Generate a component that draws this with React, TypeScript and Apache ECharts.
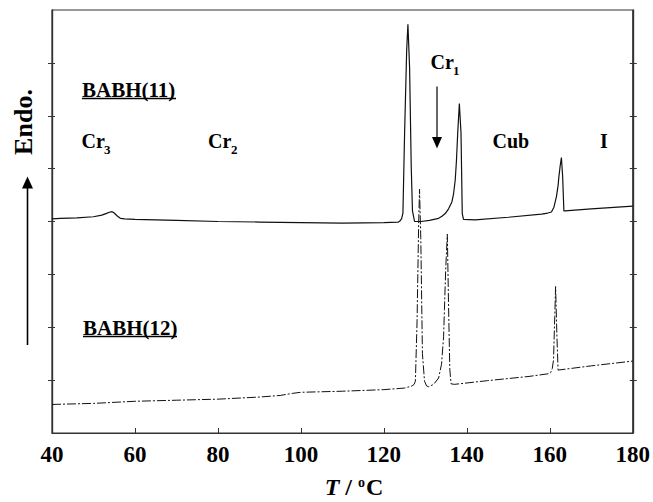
import React, { useEffect, useRef } from 'react';
import * as echarts from 'echarts';

// Temperature axis ticks (°C)
const xTicks = [40, 60, 80, 100, 120, 140, 160, 180];
// Unlabelled heat-flow ticks (arbitrary units)
const yTicks = [1, 2, 3, 4, 5, 6, 7];

// BABH(11) DSC trace (solid): temperature (°C) and heat flow (arbitrary units)
const babh11T = [40, 42, 46, 50, 52, 53, 54, 54.5, 55, 55.8, 56.5, 57.5, 60, 70, 80, 90, 100, 110, 120, 123.5, 124.0, 124.3, 124.6, 125.0, 125.5, 125.8, 126.2, 126.6, 126.9, 127.4, 129, 131, 133.2, 134.0, 134.8, 135.6, 136.4, 136.8, 137.2, 137.5, 137.8, 138.0, 138.2, 138.6, 138.9, 139.2, 142, 150, 158, 159.5, 160.4, 161.0, 161.6, 162.0, 162.2, 162.5, 162.8, 163.1, 163.4, 163.7, 170, 180];
const babh11V = [4.05, 4.06, 4.07, 4.09, 4.12, 4.15, 4.18, 4.185, 4.16, 4.1, 4.06, 4.05, 4.04, 4.02, 4.0, 3.99, 3.98, 3.97, 3.98, 3.99, 4.02, 4.06, 4.16, 5.67, 7.24, 7.73, 6.92, 5.03, 4.2, 4.0, 4.0, 4.02, 4.06, 4.1, 4.15, 4.24, 4.37, 4.52, 4.78, 5.15, 5.67, 5.95, 6.23, 5.67, 4.15, 4.04, 4.03, 4.08, 4.14, 4.16, 4.18, 4.27, 4.47, 4.68, 4.85, 5.05, 5.21, 4.85, 4.2, 4.2, 4.24, 4.29];

// BABH(12) DSC trace (dash-dot)
const babh12T = [40, 50, 60, 70, 80, 90, 95, 98, 100, 105, 110, 120, 125, 126.8, 127.3, 127.6, 128.0, 128.4, 128.6, 128.9, 129.3, 129.8, 130.3, 130.8, 132, 133.2, 133.9, 134.4, 134.6, 134.9, 135.3, 135.6, 135.9, 136.2, 137, 145, 155, 159.6, 160.2, 160.6, 160.9, 161.2, 161.4, 161.7, 162, 165, 170, 180];
const babh12V = [0.54, 0.56, 0.6, 0.62, 0.64, 0.68, 0.71, 0.75, 0.77, 0.78, 0.79, 0.82, 0.85, 0.89, 0.92, 0.98, 2.1, 4.0, 4.61, 3.7, 1.5, 0.98, 0.89, 0.875, 0.92, 1.04, 1.3, 1.82, 2.33, 3.08, 3.76, 2.4, 1.2, 0.93, 0.92, 0.99, 1.07, 1.12, 1.14, 1.22, 1.38, 2.2, 2.77, 1.88, 1.19, 1.22, 1.27, 1.36];

const FONT = '"Liberation Serif", "Times New Roman", serif';

export default function App() {
  const ref = useRef<HTMLDivElement>(null);
  useEffect(() => {
    document.body.style.margin = '0';
    const chart = echarts.init(ref.current!, undefined, { renderer: 'svg' });
    const axisColor = '#333';
    const yAxisBase = {
      type: 'value',
      min: 0,
      max: 8,
      interval: 1,
      axisLabel: { show: false },
      splitLine: { show: false },
      axisLine: { show: true, lineStyle: { color: axisColor, width: 1.2 } },
    };
    const textBold = (text: string, x: number, y: number, size: number, extra: any = {}) => ({
      type: 'text',
      x,
      y,
      style: {
        text,
        font: `bold ${size}px ${FONT}`,
        fill: '#000',
        textAlign: 'left',
        textVerticalAlign: 'middle',
        ...extra,
      },
    });
    const tick = (inside: boolean, length: number) => ({
      show: true,
      inside,
      length,
      customValues: yTicks,
      lineStyle: { color: axisColor },
    });
    chart.setOption({
      animation: false,
      backgroundColor: '#fff',
      grid: { left: 52, right: 20, top: 10, bottom: 69, show: true, borderColor: axisColor, borderWidth: 1.2 },
      xAxis: [
        {
          type: 'value',
          min: xTicks[0],
          max: xTicks[xTicks.length - 1],
          interval: 20,
          axisLine: { show: true, onZero: false, lineStyle: { color: axisColor, width: 1.2 } },
          axisTick: { show: true, inside: true, length: 5, lineStyle: { color: axisColor } },
          axisLabel: {
            color: '#000',
            fontFamily: FONT,
            fontWeight: 'bold',
            fontSize: 23,
            margin: 10,
          },
          splitLine: { show: false },
        },
      ],
      yAxis: [
        { ...yAxisBase, position: 'left', axisTick: tick(true, 3) },
        { ...yAxisBase, position: 'left', axisTick: tick(false, 4) },
        { ...yAxisBase, position: 'right', axisTick: tick(true, 3) },
        { ...yAxisBase, position: 'right', axisTick: tick(false, 4) },
      ],
      series: [
        {
          name: 'BABH(11)',
          type: 'line',
          data: babh11T.map((t, i) => [t, babh11V[i]]),
          showSymbol: false,
          symbol: 'none',
          lineStyle: { color: '#111', width: 1.2 },
        },
        {
          name: 'BABH(12)',
          type: 'line',
          data: babh12T.map((t, i) => [t, babh12V[i]]),
          showSymbol: false,
          symbol: 'none',
          lineStyle: { color: '#111', width: 1, type: [9, 2, 2, 2] },
        },
      ],
      graphic: [
        // Endo. label and arrow
        {
          type: 'text',
          x: 23,
          y: 122,
          rotation: Math.PI / 2,
          style: {
            text: 'Endo.',
            font: `bold 26px ${FONT}`,
            fill: '#000',
            textAlign: 'center',
            textVerticalAlign: 'middle',
          },
        },
        { type: 'line', shape: { x1: 27.5, y1: 186, x2: 27.5, y2: 345 }, style: { stroke: '#000', lineWidth: 1.6 } },
        { type: 'polygon', shape: { points: [[27.5, 176.5], [22, 188.5], [33, 188.5]] }, style: { fill: '#000' } },
        // Sample labels
        textBold('BABH(11)', 82, 90, 21),
        { type: 'line', shape: { x1: 82, y1: 98.5, x2: 176, y2: 98.5 }, style: { stroke: '#000', lineWidth: 1.5 } },
        textBold('BABH(12)', 83, 328, 21),
        { type: 'line', shape: { x1: 83, y1: 336.5, x2: 177, y2: 336.5 }, style: { stroke: '#000', lineWidth: 1.5 } },
        // Phase labels
        textBold('Cr', 81.5, 141, 20),
        textBold('3', 104, 149, 13),
        textBold('Cr', 208, 141, 20),
        textBold('2', 231, 149, 13),
        textBold('Cr', 430.5, 62, 20),
        textBold('1', 453, 70, 13),
        textBold('Cub', 492.5, 141, 20),
        textBold('I', 600, 141, 20),
        // Cr1 arrow
        { type: 'line', shape: { x1: 437, y1: 86.5, x2: 437, y2: 140 }, style: { stroke: '#000', lineWidth: 1.2 } },
        { type: 'polygon', shape: { points: [[437, 148.5], [432, 137], [442, 137]] }, style: { fill: '#000' } },
        // x-axis title
        {
          type: 'text',
          x: 354,
          y: 487,
          style: {
            text: '{t|T}{n| / }{s|o}{n|C}',
            textAlign: 'center',
            textVerticalAlign: 'middle',
            rich: {
              t: { fontFamily: FONT, fontWeight: 'bold', fontStyle: 'italic', fontSize: 24, fill: '#000' },
              n: { fontFamily: FONT, fontWeight: 'bold', fontSize: 24, fill: '#000' },
              s: { fontFamily: FONT, fontWeight: 'bold', fontSize: 14, fill: '#000', verticalAlign: 'top', padding: [0, 1, 10, 0] },
            },
          },
        },
      ],
    });
    return () => chart.dispose();
  }, []);
  return <div ref={ref} style={{ width: 653, height: 502 }} />;
}
